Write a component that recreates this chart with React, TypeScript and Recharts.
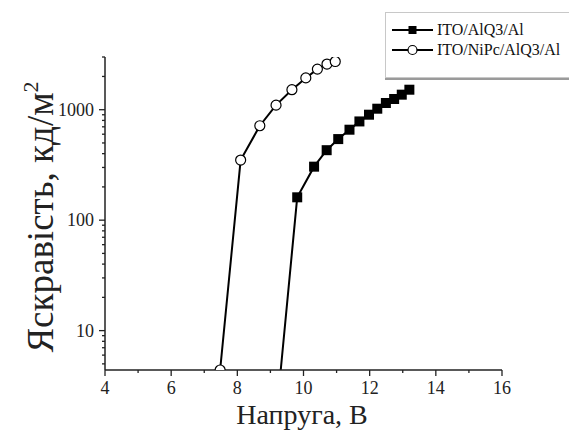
import React from 'react';
import { LineChart, Line, XAxis, YAxis, Legend } from 'recharts';

const seriesNames = ['ITO/AlQ3/Al', 'ITO/NiPc/AlQ3/Al'];

// ITO/AlQ3/Al (filled squares)
const alq3Voltage = [9.28, 9.81, 10.32, 10.7, 11.05, 11.39, 11.69, 11.98, 12.23, 12.49, 12.74, 12.97, 13.2];
const alq3Luminance = [3.5, 161, 305, 430, 542, 659, 783, 901, 1021, 1150, 1250, 1368, 1517];

// ITO/NiPc/AlQ3/Al (open circles)
const nipcVoltage = [7.48, 8.1, 8.68, 9.17, 9.65, 10.07, 10.42, 10.71, 10.96];
const nipcLuminance = [4.4, 350, 716, 1100, 1517, 1940, 2330, 2590, 2730];

const xTicks = [4, 5, 6, 7, 8, 9, 10, 11, 12, 13, 14, 15, 16];
const xLabels = [4, 6, 8, 10, 12, 14, 16];
const yTicks = [
  5, 6, 7, 8, 9, 10, 20, 30, 40, 50, 60, 70, 80, 90, 100,
  200, 300, 400, 500, 600, 700, 800, 900, 1000, 2000, 3000,
];
const yLabels = [10, 100, 1000];

const alq3Data = alq3Voltage.map((v, i) => ({ v, l: alq3Luminance[i] }));
const nipcData = nipcVoltage.map((v, i) => ({ v, l: nipcLuminance[i] }));

const FONT = '"Liberation Serif", "DejaVu Serif", serif';

const XTick = (props: any) => {
  const { x, y, payload } = props;
  const major = xLabels.includes(payload.value);
  return (
    <g>
      <line x1={x} x2={x} y1={y} y2={y + (major ? 6 : 3)} stroke="#222" strokeWidth={1.3} />
      {major && (
        <text x={x} y={y + 18} dy="0.35em" textAnchor="middle" fontFamily={FONT} fontSize={18} fill="#222">
          {payload.value}
        </text>
      )}
    </g>
  );
};

const YTick = (props: any) => {
  const { x, y, payload } = props;
  const major = yLabels.includes(payload.value);
  return (
    <g>
      <line x1={x} x2={x - (major ? 6 : 3)} y1={y} y2={y} stroke="#222" strokeWidth={1.3} />
      {major && (
        <text x={x - 11} y={y} dy="0.35em" textAnchor="end" fontFamily={FONT} fontSize={18} fill="#222">
          {payload.value}
        </text>
      )}
    </g>
  );
};

const SquareDot = (props: any) => {
  const { cx, cy, index } = props;
  if (cx == null || cy == null) return <g key={index} />;
  return <rect key={index} x={cx - 5} y={cy - 5} width={10} height={10} fill="#000" />;
};

const CircleDot = (props: any) => {
  const { cx, cy, index } = props;
  if (cx == null || cy == null) return <g key={index} />;
  return <circle key={index} cx={cx} cy={cy} r={5} fill="#fff" stroke="#000" strokeWidth={1.2} />;
};

const LegendBox = () => (
  <div
    style={{
      width: 200,
      height: 66,
      border: '1px solid #c8c8c8',
      boxShadow: '0 2px 0 #9a9a9a',
      background: '#fff',
      fontFamily: FONT,
      fontSize: 16,
      color: '#111',
      boxSizing: 'border-box',
      paddingTop: 7,
    }}
  >
    {seriesNames.map((name, i) => (
      <div key={name} style={{ display: 'flex', alignItems: 'center', height: 20, marginLeft: 6 }}>
        <svg width={42} height={14}>
          <line x1={0} x2={41} y1={7} y2={7} stroke="#000" strokeWidth={2} />
          {i === 0 ? (
            <rect x={16.5} y={3} width={8} height={8} fill="#000" />
          ) : (
            <circle cx={20.5} cy={7} r={4.5} fill="#fff" stroke="#000" strokeWidth={1.2} />
          )}
        </svg>
        <span style={{ marginLeft: 3 }}>{name}</span>
      </div>
    ))}
  </div>
);

const XTitle = (props: any) => (
  <text x={302} y={414} textAnchor="middle" dy="0.35em" fontFamily={FONT} fontSize={28} fill="#222">
    Напруга, В
  </text>
);

const YTitle = (props: any) => (
  <text
    x={0}
    y={0}
    transform="translate(40 217) rotate(-90)"
    textAnchor="middle"
    dy="0.35em"
    fontFamily={FONT}
    fontSize={37}
    fill="#222"
  >
    Яскравість, кд/м
    <tspan dy={-15} fontSize={22}>2</tspan>
  </text>
);

export default function App() {
  return (
    <div style={{ position: 'absolute', left: 0, top: 0, width: 569, height: 430, overflow: 'hidden', background: '#fff' }}>
      <LineChart width={569} height={430} margin={{ top: 57, right: 67, bottom: 0, left: 0 }}>
        <XAxis
          type="number"
          dataKey="v"
          domain={[4, 16]}
          ticks={xTicks}
          interval={0}
          height={60}
          tickSize={0}
          tickMargin={0}
          tick={<XTick />}
          axisLine={{ stroke: '#222', strokeWidth: 1.5 }}
          label={{ content: XTitle }}
        />
        <YAxis
          scale="log"
          domain={[4.4, 3000]}
          allowDataOverflow
          ticks={yTicks}
          interval={0}
          width={105}
          tickSize={0}
          tickMargin={0}
          tick={<YTick />}
          axisLine={{ stroke: '#222', strokeWidth: 1.5 }}
          label={{ content: YTitle }}
        />
        <Legend
          layout="vertical"
          verticalAlign="middle"
          align="center"
          content={<LegendBox />}
          wrapperStyle={{ left: 385, top: 12, width: 200 }}
        />
        <Line
          data={alq3Data}
          dataKey="l"
          name={seriesNames[0]}
          stroke="#000"
          strokeWidth={2}
          dot={SquareDot}
          isAnimationActive={false}
        />
        <Line
          data={nipcData}
          dataKey="l"
          name={seriesNames[1]}
          stroke="#000"
          strokeWidth={2}
          dot={CircleDot}
          isAnimationActive={false}
        />
      </LineChart>
    </div>
  );
}
